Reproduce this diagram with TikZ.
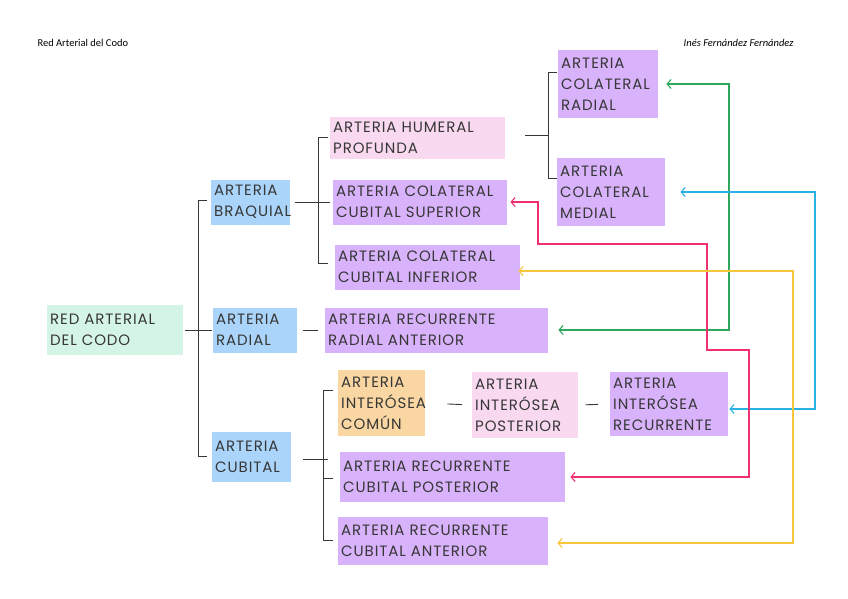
\documentclass[tikz,border=0pt]{standalone}
\usepackage{fontspec}
\setmainfont{Poppins}[LetterSpace=6, WordSpace=1.8]
\newfontfamily\headfont{Carlito}
\usepackage{xcolor}
\usetikzlibrary{arrows.meta}

\definecolor{mint}{RGB}{212,245,229}
\definecolor{skyhl}{RGB}{170,212,250}
\definecolor{rosehl}{RGB}{248,217,240}
\definecolor{lilac}{RGB}{216,178,250}
\definecolor{peach}{RGB}{250,215,162}
\definecolor{inkgray}{RGB}{55,55,55}
\definecolor{grnline}{RGB}{46,166,92}
\definecolor{bluline}{RGB}{42,176,227}
\definecolor{pnkline}{RGB}{240,48,111}
\definecolor{ylwline}{RGB}{247,198,61}

\tikzset{
  hlbox/.style={anchor=west, align=left, inner xsep=3pt, inner ysep=2pt,
    text=inkgray, font=\fontsize{15}{21}\selectfont},
  link/.style={draw=inkgray, line width=0.9pt},
  anast/.style={line width=1.1pt, {Straight Barb[length=4pt,width=9pt]}-{Straight Barb[length=4pt,width=9pt]}}
}

\begin{document}
\begin{tikzpicture}[x=1pt,y=-1pt]
  \useasboundingbox (0,0) rectangle (848,599);
  \fill[white] (0,0) rectangle (848,599);

  % cabecera
  \node[anchor=west, font=\headfont\fontsize{10.5}{12}\selectfont] (title) at (34,43) {Red Arterial del Codo};
  \node[anchor=east, font=\headfont\itshape\fontsize{10.5}{12}\selectfont] (author) at (797,43) {Inés Fernández Fernández};

  % nivel 1
  \node[hlbox, fill=mint, text width=130, minimum height=50] (root) at (47,330) {RED~ARTERIAL\\DEL~CODO};

  % nivel 2
  \node[hlbox, fill=skyhl, text width=73, minimum height=45] (braq) at (211,202) {ARTERIA\\BRAQUIAL};
  \node[hlbox, fill=skyhl, text width=78, minimum height=45] (radial) at (213,330) {ARTERIA\\RADIAL};
  \node[hlbox, fill=skyhl, text width=73, minimum height=50] (cubital) at (212,457) {ARTERIA\\CUBITAL};

  % ramas de la braquial
  \node[hlbox, fill=rosehl, text width=169, minimum height=42] (humeral) at (330,138) {ARTERIA~HUMERAL\\PROFUNDA};
  \node[hlbox, fill=lilac, text width=168, minimum height=45] (colsup) at (333,202) {ARTERIA~COLATERAL\\CUBITAL~SUPERIOR};
  \node[hlbox, fill=lilac, text width=179, minimum height=45] (colinf) at (335,267) {ARTERIA~COLATERAL\\CUBITAL~INFERIOR};
  \node[hlbox, fill=lilac, text width=94, minimum height=68] (colrad) at (558,84) {ARTERIA\\COLATERAL\\RADIAL};
  \node[hlbox, fill=lilac, text width=102, minimum height=68] (colmed) at (557,192) {ARTERIA\\COLATERAL\\MEDIAL};

  % rama de la radial
  \node[hlbox, fill=lilac, text width=217, minimum height=45] (recradant) at (325,330) {ARTERIA~RECURRENTE\\RADIAL~ANTERIOR};

  % ramas de la cubital
  \node[hlbox, fill=peach, text width=81, minimum height=66] (intcom) at (338,403) {ARTERIA\\INTERÓSEA\\COMÚN};
  \node[hlbox, fill=rosehl, text width=100, minimum height=66] (intpost) at (472,405) {ARTERIA\\INTERÓSEA\\POSTERIOR};
  \node[hlbox, fill=lilac, text width=112, minimum height=64] (intrec) at (610,404) {ARTERIA\\INTERÓSEA\\RECURRENTE};
  \node[hlbox, fill=lilac, text width=219, minimum height=50] (recubpost) at (340,477) {ARTERIA~RECURRENTE\\CUBITAL~POSTERIOR};
  \node[hlbox, fill=lilac, text width=204, minimum height=48] (recubant) at (338,541) {ARTERIA~RECURRENTE\\CUBITAL~ANTERIOR};

  % llaves
  \draw[link] (207,200) -- (198,200) -- (198,456) -- (207,456);
  \draw[link, shorten <=2pt, shorten >=1pt] (root.east) -- (radial.west);
  \draw[link] (328,137) -- (318,137) -- (318,263) -- (328,263);
  \draw[link, shorten <=5pt, shorten >=3pt] (braq.east) -- (colsup.west);
  \coordinate (bhum) at (548,135);
  \draw[link] (557,72) -- (548,72) -- (548,178) -- (557,178);
  \draw[link, shorten <=20pt] (humeral.east |- bhum) -- (bhum);
  \draw[link, shorten <=6pt, shorten >=7pt] (radial.east) -- (recradant.west);
  \coordinate (bcub) at (328,459);
  \draw[link] (333,390) -- (323,390) -- (323,540) -- (333,540);
  \draw[link] (323,478) -- (333,478);
  \draw[link, shorten <=12pt] (cubital.east |- bcub) -- (bcub);
  \draw[link, shorten <=22pt, shorten >=10pt] (intcom.east) -- (intpost.west);
  \draw[link, shorten <=7pt, shorten >=12pt] (intpost.east) -- (intrec.west);

  % anastomosis
  \coordinate (grn) at (729,200);
  \draw[anast, grnline] ([xshift=8pt]colrad.east) -| (grn) |- ([xshift=10pt]recradant.east);
  \coordinate (blu) at (815,300);
  \draw[anast, bluline] ([xshift=15pt]colmed.east) -| (blu) |- ([xshift=1pt,yshift=-5pt]intrec.east);
  \coordinate (pk1) at (538,244);
  \coordinate (pk2) at (707,350);
  \coordinate (pk3) at (749,350);
  \draw[anast, pnkline] ([xshift=3pt]colsup.east) -| (pk1) -| (pk2) -- (pk3) |- ([xshift=5pt]recubpost.east);
  \coordinate (ylw) at (793,400);
  \draw[anast, ylwline] ([xshift=-2pt,yshift=-4pt]colinf.east) -| (ylw) |- ([xshift=9pt,yshift=-2pt]recubant.east);
\end{tikzpicture}
\end{document}
